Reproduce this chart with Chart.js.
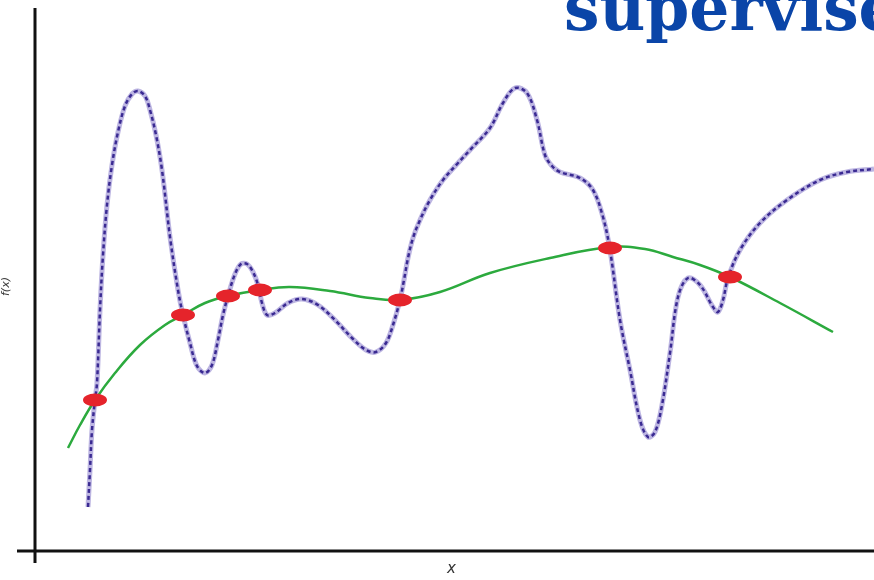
<!DOCTYPE html>
<html>
<head>
<meta charset="utf-8">
<script src="https://cdn.jsdelivr.net/npm/chart.js@4/dist/chart.umd.min.js"></script>
<style>
    html, body { margin: 0; padding: 0; background: #fff; overflow: hidden; }
    #wrap { position: relative; width: 874px; height: 580px; overflow: hidden; }
    #titulo {
        position: absolute; left: 564px; top: -23px; white-space: nowrap;
        font-family: "DejaVu Serif", serif; font-weight: bold; font-size: 63px;
        line-height: 63px; color: #0a45a8;
    }
    .etiqueta { position: absolute; font-family: "DejaVu Sans", sans-serif; font-style: italic; color: #333; }
    #ejeX { left: 447px; top: 559px; font-size: 15px; }
    #ejeY { left: -4px; top: 280px; font-size: 11px; transform: rotate(-90deg); }
</style>
</head>
<body>
<div id="wrap">
    <canvas id="grafica"></canvas>
    <div id="titulo">supervise</div>
    <div id="ejeX" class="etiqueta">x</div>
    <div id="ejeY" class="etiqueta">f(x)</div>
</div>
<script>
// --- DATOS (origen en el cruce de los ejes) ---
const curvaSobreajuste = [
    [53,44],[55,81],[57,121],[60,151],[62,168],[65,241],[68,296],[72,346],[77,386],[83,419],
    [90,445],[97,457],[103,460],[110,455],[115,441],[121,416],[127,381],[135,314],[143,261],[148,236],
    [155,208],[162,185],[170,178],[177,186],[183,211],[188,236],[193,255],[200,277],[206,287],
    [212,287],[218,279],[223,266],[227,248],[232,236],[240,238],[253,248],[267,252],[283,246],
    [300,231],[317,213],[331,201],[341,199],[351,208],[358,226],[365,251],[369,271],[373,293],
    [378,313],[385,331],[395,351],[408,371],[423,388],[435,401],[455,423],[468,448],[480,463],
    [492,458],[502,431],[510,396],[517,385],[525,379],[545,373],[558,361],[568,334],[575,301],
    [585,231],[595,181],[605,131],[613,114],[620,119],[627,146],[635,198],[643,254],[653,273],
    [665,266],[678,244],[683,239],[688,251],[693,273],[705,301],[725,328],[752,351],[785,371],
    [812,379],[839,382]
];
const curvaSuave = [
    [33,103],[45,126],[60,151],[80,178],[105,206],[130,226],[148,236],[170,248],[193,255],
    [225,261],[255,264],[295,260],[335,253],[365,251],[405,259],[455,278],[515,293],[575,304],
    [610,302],[638,294],[665,286],[695,274],[745,248],[798,219]
];
const puntosMuestra = [[60,151],[148,236],[193,255],[225,261],[365,251],[575,303],[695,274]];

const aXY = arr => arr.map(p => ({ x: p[0], y: p[1] }));

// punto rojo elíptico
function crearElipse() {
    const c = document.createElement('canvas');
    c.width = 26; c.height = 14;
    const g = c.getContext('2d');
    g.fillStyle = '#e5242b';
    g.beginPath();
    g.ellipse(13, 7, 12, 6.5, 0, 0, Math.PI * 2);
    g.fill();
    return c;
}

// ejes negros que sobresalen un poco
const pluginEjes = {
    id: 'ejes',
    beforeDatasetsDraw(chart) {
        const { ctx, scales: { x, y } } = chart;
        const x0 = x.getPixelForValue(0), y0 = y.getPixelForValue(0);
        ctx.save();
        ctx.strokeStyle = '#111';
        ctx.lineWidth = 3;
        ctx.beginPath();
        ctx.moveTo(x0, y.getPixelForValue(543));
        ctx.lineTo(x0, y.getPixelForValue(-12));
        ctx.moveTo(x.getPixelForValue(-18), y0);
        ctx.lineTo(x.getPixelForValue(839), y0);
        ctx.stroke();
        ctx.restore();
    }
};

new Chart(document.getElementById('grafica'), {
    type: 'scatter',
    data: {
        datasets: [
            {
                data: aXY(puntosMuestra),
                pointStyle: crearElipse(),
                pointRadius: 7,
                showLine: false,
                order: 0
            },
            {
                data: aXY(curvaSuave),
                showLine: true,
                borderColor: '#2caa3e',
                borderWidth: 2.5,
                pointRadius: 0,
                tension: 0.4,
                order: 1
            },
            {
                data: aXY(curvaSobreajuste),
                showLine: true,
                borderColor: '#3a2a92',
                borderWidth: 2.5,
                borderDash: [4, 3],
                pointRadius: 0,
                tension: 0.35,
                order: 2
            },
            {
                data: aXY(curvaSobreajuste),
                showLine: true,
                borderColor: '#bdb6e2',
                borderWidth: 5,
                pointRadius: 0,
                tension: 0.35,
                order: 3
            }
        ]
    },
    options: {
        responsive: true,
        maintainAspectRatio: false,
        animation: false,
        layout: { padding: 0, autoPadding: false },
        plugins: { legend: { display: false }, tooltip: { enabled: false } },
        scales: {
            x: { type: 'linear', min: -35, max: 839, display: false },
            y: { type: 'linear', min: -29, max: 551, display: false }
        }
    },
    plugins: [pluginEjes]
});
</script>
</body>
</html>
